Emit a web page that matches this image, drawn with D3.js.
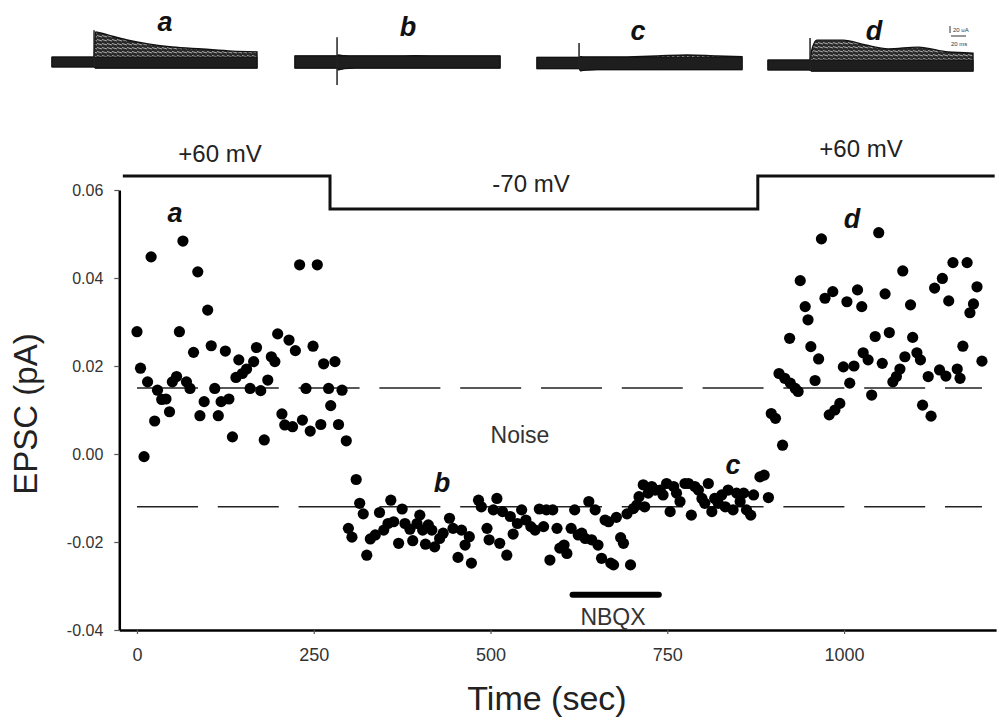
<!DOCTYPE html>
<html>
<head>
<meta charset="utf-8">
<script src="https://cdnjs.cloudflare.com/ajax/libs/d3/7.8.5/d3.min.js"></script>
<style>
body{margin:0;background:#fff;}
svg{display:block;font-family:'Liberation Sans',Arial,Helvetica,sans-serif;}
</style>
</head>
<body>
<div id="canvas"></div>
<script>
//Tick values
var tickX = [0,250,500,750,1000];
var tickY = [-0.04,-0.02,0,0.02,0.04,0.06];

//Holding potential protocol (sec, mV)
var holdTimes = [-20,273,273,878,878,1213];
var holdMv = [60,60,-70,-70,60,60];

//Noise band and drug application
var noiseLevels = [0.015,-0.012];
var noiseSpan = [0,1195];
var nbqxSpan = [616,738];
var nbqxLevel = -0.032;

//EPSC amplitude (sec, pA) - first +60 mV period
var epsc60a = [[0,.0278],[5,.0195],[10,-.0006],[15,.0164],[20,.0448],[25,.0075],[29,.0145],[35,.0124],[41,.0125],[46,.0096],
    [50,.0164],[56,.0176],[60,.0278],[65,.0484],[70,.0164],[75,.0149],[80,.0231],[86,.0414],[89,.0087],[95,.0119],
    [100,.0327],[105,.0246],[110,.0149],[115,.0087],[119,.0119],[125,.0234],[130,.0125],[135,.0039],[140,.0174],[144,.0214],
    [149,.0183],[155,.0193],[160,.0149],[165,.0210],[169,.0242],[175,.0144],[180,.0032],[185,.0168],[190,.0221],[195,.0210],
    [199,.0273],[205,.0091],[209,.0066],[215,.0259],[220,.0062],[224,.0235],[230,.0430],[234,.0077],[239,.0149],[245,.0052],
    [249,.0245],[255,.0430],[260,.0067],[264,.0205],[271,.0149],[274,.0110],[280,.0210],[285,.0067],[290,.0145],[296,.0030]];

//-70 mV period
var epsc70 = [[299,-.0169],[304,-.0189],[310,-.0058],[315,-.0112],[320,-.0136],[325,-.0230],[330,-.0193],[337,-.0184],[343,-.0133],[349,-.0173],
    [355,-.0158],[359,-.0105],[363,-.0154],[370,-.0203],[375,-.0125],[379,-.0158],[386,-.0171],[390,-.0197],[396,-.0158],[400,-.0139],
    [404,-.0173],[408,-.0205],[412,-.0161],[417,-.0173],[421,-.0211],[428,-.0192],[433,-.0180],[442,-.0146],[447,-.0169],[454,-.0235],
    [459,-.0173],[464,-.0207],[470,-.0188],[473,-.0248],[483,-.0105],[487,-.0120],[495,-.0169],[498,-.0195],[504,-.0127],[509,-.0101],
    [513,-.0203],[517,-.0131],[523,-.0230],[528,-.0142],[532,-.0182],[538,-.0158],[544,-.0127],[550,-.0150],[557,-.0165],[563,-.0173],
    [569,-.0125],[575,-.0165],[579,-.0127],[584,-.0241],[588,-.0127],[594,-.0169],[598,-.0214],[604,-.0207],[608,-.0226],[614,-.0169],
    [619,-.0127],[624,-.0184],[629,-.0180],[634,-.0192],[639,-.0108],[643,-.0195],[648,-.0127],[652,-.0207],[657,-.0237],[662,-.0150],
    [667,-.0154],[670,-.0248],[674,-.0252],[678,-.0144],[684,-.0190],[688,-.0203],[693,-.0136],[698,-.0252],[702,-.0124],[707,-.0116],
    [710,-.0097],[716,-.0070],[718,-.0120],[723,-.0089],[728,-.0074],[733,-.0082],[740,-.0082],[744,-.0093],[749,-.0067],[754,-.0131],
    [759,-.0074],[763,-.0089],[768,-.0108],[775,-.0067],[780,-.0067],[784,-.0139],[789,-.0074],[794,-.0082],[799,-.0101],[803,-.0112],
    [808,-.0067],[813,-.0131],[817,-.0101],[822,-.0112],[827,-.0093],[832,-.0120],[836,-.0082],[843,-.0127],[848,-.0089],[853,-.0108],
    [858,-.0089],[862,-.0127],[868,-.0139],[872,-.0093],[881,-.0052],[887,-.0048],[893,-.0099]];

//second +60 mV period
var epsc60b = [[897,.0092],[903,.0081],[908,.0183],[913,.0020],[916,.0172],[923,.0263],[924,.0161],[931,.0149],[935,.0142],[938,.0394],
    [945,.0335],[949,.0305],[953,.0244],[959,.0167],[964,.0216],[968,.0489],[973,.0354],[979,.0089],[984,.0369],[987,.0100],
    [994,.0115],[999,.0198],[1004,.0346],[1008,.0161],[1014,.0200],[1019,.0373],[1025,.0335],[1027,.0230],[1034,.0214],[1039,.0134],
    [1044,.0267],[1049,.0503],[1054,.0206],[1058,.0364],[1064,.0276],[1069,.0164],[1074,.0176],[1079,.0193],[1083,.0416],[1086,.0221],
    [1094,.0339],[1097,.0265],[1103,.0230],[1108,.0214],[1111,.0111],[1119,.0176],[1123,.0086],[1128,.0377],[1135,.0191],[1139,.0399],
    [1144,.0177],[1148,.0348],[1154,.0435],[1160,.0193],[1164,.0172],[1168,.0245],[1174,.0435],[1178,.0321],[1183,.0341],[1188,.0380],
    [1195,.0211]];

//Sample traces: envelope of superimposed sweeps (ms, uA)
var traceMs = [0,56,58,65,80,100,130,160,200,240,273];
var traceTopA = [14,14,86,83,74,63,51,43,37,31,29];
var traceBotA = [-14,-14,-17,-17,-17,-17,-17,-17,-17,-17,-17];
var traceTopB = [17,17,20,18,17,17,17,18,17,17,17];
var traceBotB = [-17,-17,-22,-19,-17,-17,-17,-17,-17,-17,-17];
var traceTopC = [16,16,18,17,17,17,18,20,23,20,18];
var traceBotC = [-16,-16,-22,-20,-19,-19,-19,-19,-19,-19,-19];
var traceTopD = [14,14,40,71,71,71,57,46,51,37,34];
var traceBotD = [-14,-14,-17,-17,-17,-17,-17,-17,-17,-17,-17];
var artifactUa = [[91,-14],[71,-66],[57,-17],[77,-17]];
var traceNames = ['a','b','c','d'];

var W = 1000, H = 718;

var svg = d3.select('#canvas')
    .append('svg')
    .attr('width',W)
    .attr('height',H);

//hatch fill so the superimposed sweeps don't read as a solid block
var defs = svg.append('defs');
var hatch = defs.append('pattern').attr('id','sweeps')
    .attr('patternUnits','userSpaceOnUse')
    .attr('width',5).attr('height',4);
hatch.append('rect').attr('width',5).attr('height',4).style('fill','#2a2a2a');
hatch.append('path').attr('d','M0,1.5 L5,3').style('stroke','#bbb').style('stroke-width',0.9);

//Scales
var x = d3.scaleLinear().domain([-25,1215]).range([119.3,996.1]);
var y = d3.scaleLinear().domain([-0.04,0.06]).range([630,190]);
var yHold = d3.scaleLinear().domain([-70,60]).range([209,176]);

//Holding potential step line
var holdLine = d3.line()
    .x(function(d){return x(d[0]);})
    .y(function(d){return yHold(d[1]);});
svg.append('path')
    .datum(holdTimes.map(function(t,i){return [t,holdMv[i]];}))
    .attr('d',holdLine)
    .style('fill','none')
    .style('stroke','#111')
    .style('stroke-width',3);

svg.append('text').attr('x',220).attr('y',162).attr('text-anchor','middle')
    .style('font-size','24px').style('fill','#222').text('+60 mV');
svg.append('text').attr('x',531).attr('y',192).attr('text-anchor','middle')
    .style('font-size','24px').style('fill','#222').text('-70 mV');
svg.append('text').attr('x',861).attr('y',157).attr('text-anchor','middle')
    .style('font-size','24px').style('fill','#222').text('+60 mV');

//Noise band
svg.selectAll('.noise')
    .data(noiseLevels)
    .enter()
    .append('line').attr('class','noise')
    .attr('x1',x(noiseSpan[0])).attr('x2',x(noiseSpan[1]))
    .attr('y1',function(d){return y(d);}).attr('y2',function(d){return y(d);})
    .style('stroke','#222')
    .style('stroke-width',1.6)
    .style('stroke-dasharray','61,19.8');

svg.append('text').attr('x',520).attr('y',443).attr('text-anchor','middle')
    .style('font-size','23px').style('fill','#333').text('Noise');

//Axes
var xAxis = d3.axisBottom(x).tickValues(tickX).tickSize(4).tickPadding(14).tickSizeOuter(0)
    .tickFormat(d3.format('d'));
var yAxis = d3.axisLeft(y).tickValues(tickY).tickSize(5).tickPadding(11).tickSizeOuter(0)
    .tickFormat(function(d){return d.toFixed(2);});

var gx = svg.append('g').attr('transform','translate(0,630)').call(xAxis);
var gy = svg.append('g').attr('transform','translate(119.3,0)').call(yAxis);
[gx,gy].forEach(function(g){
    g.attr('font-family',null).attr('font-size',null);
    g.select('.domain').style('stroke','#000').style('stroke-width',2.5);
    g.selectAll('.tick line').style('stroke','#555').style('stroke-width',1.2);
    g.selectAll('.tick text').style('fill','#333');
});
gx.selectAll('.tick text').style('font-size','18px');
gy.selectAll('.tick text').style('font-size','16px');

svg.append('text')
    .attr('transform','translate(37,414) rotate(-90)')
    .attr('text-anchor','middle')
    .style('font-size','33px').style('fill','#222')
    .text('EPSC (pA)');
svg.append('text')
    .attr('x',547).attr('y',710)
    .attr('text-anchor','middle')
    .style('font-size','34px').style('fill','#222')
    .text('Time (sec)');

//NBQX application bar
svg.append('line')
    .attr('x1',x(nbqxSpan[0])).attr('x2',x(nbqxSpan[1]))
    .attr('y1',y(nbqxLevel)).attr('y2',y(nbqxLevel))
    .style('stroke','#000').style('stroke-width',6).style('stroke-linecap','round');
svg.append('text').attr('x',613).attr('y',625).attr('text-anchor','middle')
    .style('font-size','23px').style('fill','#333').text('NBQX');

//EPSC points
var allPts = epsc60a.concat(epsc70).concat(epsc60b);
svg.selectAll('.pt')
    .data(allPts)
    .enter()
    .append('circle').attr('class','pt')
    .attr('cx',function(d){return x(d[0]);})
    .attr('cy',function(d){return y(d[1]);})
    .attr('r',5.6)
    .style('fill','#000');

//Letter markers in the plot
var plotLetters = [['a',175,222],['b',442,492],['c',733,474],['d',852,228]];
svg.selectAll('.plotLetter')
    .data(plotLetters)
    .enter()
    .append('text').attr('class','plotLetter')
    .attr('x',function(d){return d[1];})
    .attr('y',function(d){return d[2];})
    .attr('text-anchor','middle')
    .style('font-size','27px').style('font-weight','bold').style('font-style','italic')
    .style('fill','#111')
    .text(function(d){return d[0];});

//Sample traces on top
var tx = d3.scaleLinear().domain([0,273]).range([0,205]);
var ty = d3.scaleLinear().domain([-100,100]).range([35,-35]);
var traceArea = d3.area()
    .x(function(d){return tx(d[0]);})
    .y0(function(d){return ty(d[2]);})
    .y1(function(d){return ty(d[1]);})
    .curve(d3.curveMonotoneX);

var tops = [traceTopA,traceTopB,traceTopC,traceTopD];
var bots = [traceBotA,traceBotB,traceBotC,traceBotD];
var traceOrigins = [[52,62],[295,62],[537,63],[768,65]];
var traceLetterPos = [[165,31],[408,36],[638,40],[874,40]];

traceNames.forEach(function(name,i){
    var g = svg.append('g').attr('class','trace')
        .attr('transform','translate('+traceOrigins[i][0]+','+traceOrigins[i][1]+')');
    var env = traceMs.map(function(t,k){return [t,tops[i][k],bots[i][k]];});
    //dark noise band along the baseline
    var band = env.map(function(d,k){return [d[0],Math.min(d[1],tops[i][0]),d[2]];});
    g.append('path')
        .datum(env)
        .attr('d',traceArea)
        .style('fill','url(#sweeps)')
        .style('stroke','#111')
        .style('stroke-width',1.4);
    g.append('path')
        .datum(band)
        .attr('d',traceArea)
        .style('fill','#1e1e1e')
        .style('stroke','#111')
        .style('stroke-width',1);
    g.append('line')
        .attr('x1',tx(56)).attr('x2',tx(56))
        .attr('y1',ty(artifactUa[i][0])).attr('y2',ty(artifactUa[i][1]))
        .style('stroke','#222').style('stroke-width',1.5);
    svg.append('text')
        .attr('x',traceLetterPos[i][0]).attr('y',traceLetterPos[i][1])
        .attr('text-anchor','middle')
        .style('font-size','27px').style('font-weight','bold').style('font-style','italic')
        .style('fill','#111')
        .text(name);
});

//Scale bar: 20 uA, 20 ms
var sb = svg.append('g').attr('transform','translate(950,26)');
sb.append('line').attr('x1',0).attr('x2',0).attr('y1',0).attr('y2',ty(0)-ty(20))
    .style('stroke','#333').style('stroke-width',1);
sb.append('line').attr('x1',1).attr('x2',1+tx(20)).attr('y1',10).attr('y2',10)
    .style('stroke','#333').style('stroke-width',1);
sb.append('text').attr('x',3).attr('y',6).style('font-size','6px').style('fill','#333').text('20 uA');
sb.append('text').attr('x',1).attr('y',20).style('font-size','6px').style('fill','#333').text('20 ms');
</script>
</body>
</html>
